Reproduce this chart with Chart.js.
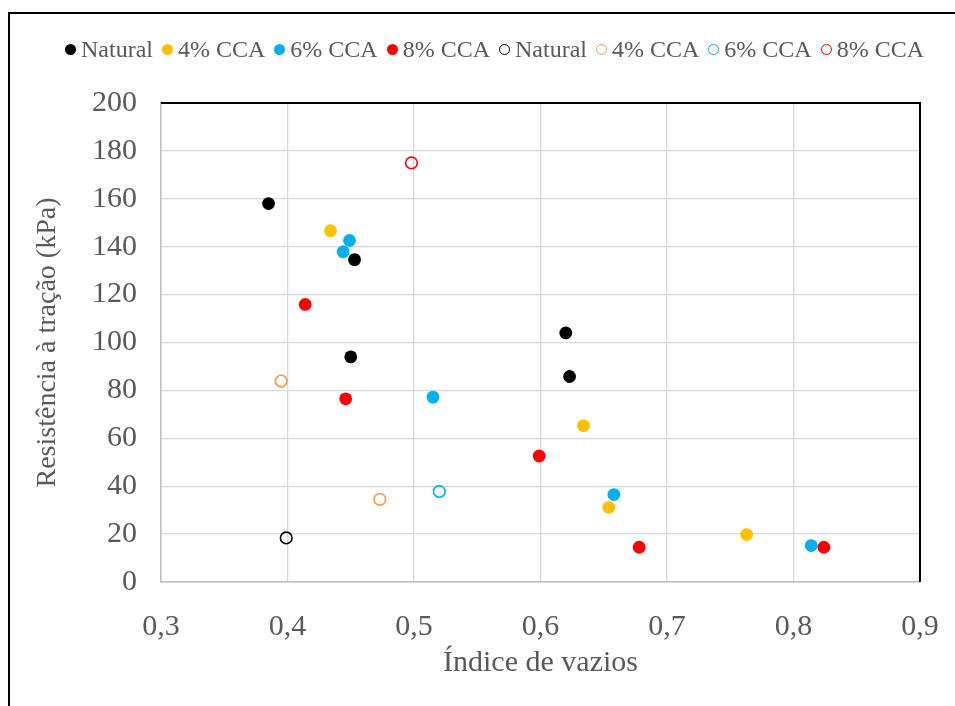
<!DOCTYPE html>
<html>
<head>
<meta charset="utf-8">
<script src="https://cdn.jsdelivr.net/npm/chart.js@4"></script>
<style>
    body { margin: 0; background: #fff; }
    #wrap { position: relative; width: 955px; height: 706px; overflow: hidden; }
    #frame { position: absolute; left: 8px; top: 12px; width: 1000px; height: 800px;
             border-left: 2px solid #000; border-top: 2px solid #000; }
    #legend { position: absolute; left: 65px; top: 37px; display: flex; align-items: center;
              font-family: "Liberation Serif", serif; font-size: 24px; line-height: 24px; color: #595959; }
    .item { display: flex; align-items: center; margin-right: 9px; white-space: nowrap; }
    .dot { width: 11px; height: 11px; border-radius: 50%; box-sizing: border-box; margin-right: 5px; }
</style>
</head>
<body>
<div id="wrap">
    <div id="frame"></div>
    <canvas id="chart" width="955" height="706"></canvas>
    <div id="legend"></div>
</div>
<script>
// series names and colours
const seriesLabels = ['Natural', '4% CCA', '6% CCA', '8% CCA', 'Natural', '4% CCA', '6% CCA', '8% CCA'];
const seriesColors = ['#000000', '#FFC000', '#00B0F0', '#FF0000', '#000000', '#F79646', '#00B0F0', '#FF0000'];
const seriesOpen = [false, false, false, false, true, true, true, true];

// filled markers
const naturalX = [0.385, 0.453, 0.450, 0.620, 0.623];
const naturalY = [158.0, 134.6, 94.0, 104.0, 85.8];
const cca4X = [0.434, 0.634, 0.654, 0.763];
const cca4Y = [146.7, 65.3, 31.2, 19.8];
const cca6X = [0.449, 0.444, 0.515, 0.658, 0.814];
const cca6Y = [142.6, 137.9, 77.2, 36.5, 15.2];
const cca8X = [0.414, 0.446, 0.599, 0.678, 0.824];
const cca8Y = [115.9, 76.5, 52.6, 14.5, 14.5];

// open markers
const naturalOpenX = [0.399];
const naturalOpenY = [18.4];
const cca4OpenX = [0.395, 0.473];
const cca4OpenY = [83.9, 34.5];
const cca6OpenX = [0.520];
const cca6OpenY = [37.8];
const cca8OpenX = [0.498];
const cca8OpenY = [175.0];

const xTicks = [0.3, 0.4, 0.5, 0.6, 0.7, 0.8, 0.9];
const yTicks = [0, 20, 40, 60, 80, 100, 120, 140, 160, 180, 200];

const allX = [naturalX, cca4X, cca6X, cca8X, naturalOpenX, cca4OpenX, cca6OpenX, cca8OpenX];
const allY = [naturalY, cca4Y, cca6Y, cca8Y, naturalOpenY, cca4OpenY, cca6OpenY, cca8OpenY];

const GRAY = '#595959';
const FONT = '"Liberation Serif", serif';

const datasets = seriesLabels.map((label, i) => ({
    label: label,
    data: allX[i].map((x, j) => ({ x: x, y: allY[i][j] })),
    backgroundColor: seriesOpen[i] ? 'rgba(255,255,255,0)' : seriesColors[i],
    borderColor: seriesColors[i],
    borderWidth: seriesOpen[i] ? 1.6 : 0,
    pointRadius: seriesOpen[i] ? 5.8 : 6.4,
    pointHoverRadius: seriesOpen[i] ? 5.8 : 6.4
}));

// black line on top and right of the plot area (Excel style)
const plotFrame = {
    id: 'plotFrame',
    beforeDatasetsDraw(chart) {
        const { ctx, chartArea: a } = chart;
        ctx.save();
        ctx.strokeStyle = '#000';
        ctx.lineWidth = 2;
        ctx.beginPath();
        ctx.moveTo(a.left, a.top);
        ctx.lineTo(a.right, a.top);
        ctx.lineTo(a.right, a.bottom);
        ctx.stroke();
        ctx.restore();
    }
};

const chart = new Chart(document.getElementById('chart'), {
    type: 'scatter',
    data: { datasets: datasets },
    options: {
        responsive: false,
        animation: false,
        layout: { padding: { top: 103, right: 35, left: 0, bottom: 0 } },
        plugins: {
            legend: { display: false },
            tooltip: { enabled: false }
        },
        scales: {
            x: {
                type: 'linear',
                min: 0.3,
                max: 0.9,
                afterBuildTicks: s => { s.ticks = xTicks.map(v => ({ value: v })); },
                afterFit: s => { s.height = 124; s.paddingLeft = 0; s.paddingRight = 0; },
                grid: { color: '#d9d9d9', lineWidth: 1.3, drawTicks: false },
                border: { color: '#bfbfbf', width: 1.5 },
                ticks: {
                    padding: 27,
                    color: GRAY,
                    font: { family: FONT, size: 30 },
                    callback: v => v.toFixed(1).replace('.', ',')
                },
                title: {
                    display: true,
                    text: 'Índice de vazios',
                    color: GRAY,
                    font: { family: FONT, size: 30 },
                    padding: { top: 0, bottom: 25 }
                }
            },
            y: {
                type: 'linear',
                min: 0,
                max: 200,
                afterBuildTicks: s => { s.ticks = yTicks.map(v => ({ value: v })); },
                afterFit: s => { s.width = 161; s.paddingTop = 0; s.paddingBottom = 0; },
                grid: { color: '#d9d9d9', lineWidth: 1.3, drawTicks: false },
                border: { color: '#bfbfbf', width: 1.5 },
                ticks: {
                    padding: 24,
                    color: GRAY,
                    font: { family: FONT, size: 30 }
                },
                title: {
                    display: true,
                    text: 'Resistência à tração (kPa)',
                    color: GRAY,
                    font: { family: FONT, size: 28 },
                    padding: { top: 31, bottom: 0 }
                }
            }
        }
    },
    plugins: [plotFrame]
});

// html legend built from the datasets
const legendEl = document.getElementById('legend');
chart.data.datasets.forEach((ds, i) => {
    const item = document.createElement('div');
    item.className = 'item';
    const dot = document.createElement('span');
    dot.className = 'dot';
    if (seriesOpen[i]) {
        dot.style.border = '1.5px solid ' + seriesColors[i];
    } else {
        dot.style.background = seriesColors[i];
    }
    const txt = document.createElement('span');
    txt.textContent = ds.label;
    item.appendChild(dot);
    item.appendChild(txt);
    legendEl.appendChild(item);
});
</script>
</body>
</html>
